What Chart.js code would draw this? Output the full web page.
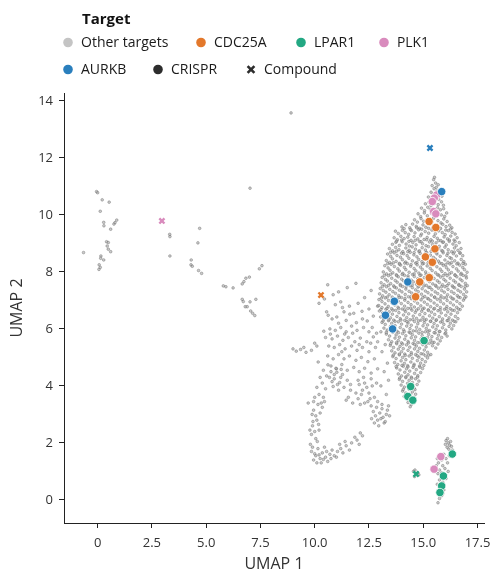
<!DOCTYPE html>
<html><head><meta charset="utf-8">
<script src="https://cdn.jsdelivr.net/npm/chart.js@4.4.1/dist/chart.umd.min.js"></script>
<style>html,body{margin:0;padding:0;background:#fff;}#wrap{position:relative;width:490px;height:574px;}</style>
</head><body><div id="wrap"><canvas id="c" width="490" height="574"></canvas></div>
<script>
const xTicks=[0,2.5,5,7.5,10,12.5,15,17.5];
const yTicks=[0,2,4,6,8,10,12,14];
const legendTitle='Target';
const legendLabels=['Other targets','CDC25A','LPAR1','PLK1','AURKB','CRISPR','Compound'];

// CRISPR-hit targets
const cdc25a=[[15.27,9.77],[15.58,9.56],[15.54,8.81],[15.10,8.53],[15.42,8.34],[15.28,7.80],[14.84,7.65],[14.65,7.13]];
const lpar1=[[15.04,5.59],[14.42,3.98],[14.29,3.63],[14.52,3.50],[16.34,1.61],[15.93,0.84],[15.85,0.49],[15.77,0.26]];
const plk1=[[15.62,10.70],[15.51,10.59],[15.42,10.47],[15.48,10.12],[15.58,10.04],[15.81,1.52],[15.50,1.08]];
const aurkb=[[15.85,10.82],[14.29,7.65],[13.67,6.97],[13.26,6.48],[13.59,6.00]];
// compound-hit targets
const compoundCdc25a=[[10.29,7.19]];
const compoundLpar1=[[14.67,0.91]];
const compoundPlk1=[[2.96,9.79]];
const compoundAurkb=[[15.31,12.35]];

// other targets
const otherSparse=[[-0.05,10.82],[0.0,10.78],[0.21,10.53],[0.53,10.45],[0.12,10.13],[0.28,9.74],[0.29,9.62],[0.88,9.82],[0.80,9.73],[0.75,9.68],[0.60,9.50],[0.41,9.06],[0.49,9.03],[0.44,8.91],[0.49,8.80],[0.60,8.71],[-0.65,8.68],[0.15,8.56],[0.14,8.48],[0.28,8.42],[0.07,8.25],[0.12,8.16],[0.06,8.09],[3.32,9.32],[3.33,9.24],[3.33,8.56],[4.70,9.53],[4.62,9.02],[4.31,8.42],[4.30,8.25],[4.36,8.20],[4.65,8.05],[4.79,7.95],[7.02,10.94],[5.79,7.51],[5.91,7.48],[6.24,7.44],[6.66,7.58],[6.74,7.66],[6.83,7.78],[6.99,7.82],[7.45,8.11],[7.57,8.22],[6.66,7.04],[6.71,6.96],[7.02,6.95],[7.29,7.04],[6.80,6.78],[6.89,6.78],[7.05,6.63],[7.14,6.55],[7.24,6.47],[8.91,13.58]];

const otherMiddle=[[10.6,7.55],[10.85,7.2],[11.1,7.3],[11.5,7.45],[11.2,6.95],[10.95,6.85],[11.6,6.8],[12.0,6.9],[12.3,7.1],[10.55,6.6],[11.35,6.6],[11.8,6.55],[12.5,6.7],[12.7,6.45],[10.8,6.35],[11.1,6.2],[12.2,6.35],[12.9,6.8],[12.6,7.35],[11.9,7.6],[10.2,6.9],[10.45,7.05],
[9.0,5.3],[9.15,5.22],[9.35,5.28],[9.6,5.18],[9.85,5.25],[10.0,5.5],[10.1,5.4],[9.5,5.35],[10.16,4.84],[10.61,4.74],
[10.7,6.0],[10.95,5.95],[11.2,6.05],[11.45,5.9],[11.7,6.1],[11.95,5.95],[12.25,6.05],[12.5,5.9],[10.5,5.7],[10.8,5.65],[11.05,5.75],[11.3,5.6],[11.55,5.7],[11.85,5.55],[12.1,5.68],[12.4,5.55],[12.7,5.72],[10.65,5.4],[10.9,5.35],[11.15,5.45],[11.4,5.3],[11.7,5.4],[11.95,5.25],[12.2,5.35],[12.5,5.2],[12.8,5.35],[10.6,5.05],[10.85,4.95],[11.1,5.1],[11.35,4.95],[11.6,5.05],[11.9,4.9],[12.15,5.0],[12.45,4.85],[12.75,4.95],[10.75,4.7],[11.0,4.6],[11.25,4.75],[11.5,4.55],[11.8,4.65],[12.05,4.5],[12.3,4.62],[12.6,4.45],[12.9,4.6],[11.45,6.3],[11.75,5.85],[12.05,5.45],[11.25,5.2],[10.9,4.4],[11.2,4.3],[11.5,4.2],[11.05,4.05],[10.8,4.15],[11.35,3.95],[11.65,4.05],[12.0,4.2],[12.3,4.1],[12.6,4.25],[12.85,4.1],[12.2,3.85],[12.5,3.75],[12.75,3.6],[12.0,3.55],[12.3,3.4],[12.6,3.3],[12.9,3.45],[13.1,3.2],[12.8,2.95],[13.05,2.85],[13.3,3.0],[12.95,2.6],[13.2,2.7],[13.4,3.3],[12.7,3.1],
[10.62,6.48],[11.02,6.42],[11.28,6.75],[11.62,6.52],[11.92,6.22],[12.18,6.62],[12.42,6.28],[12.65,6.05],[12.85,5.85],[10.42,5.92],[10.72,5.82],[11.38,5.82],[12.58,5.5],[12.9,5.55],[13.05,5.9],
[10.75,4.5],[10.9,4.25],[11.02,4.48],[11.15,4.12],[11.28,4.4],[10.85,3.98],[11.1,3.85],[10.98,4.62],[11.22,4.58],[10.68,4.3],
[12.05,4.05],[12.15,3.7],[12.4,3.95],[12.55,3.55],[12.65,4.0],[12.25,4.3],[12.45,3.45],[12.1,3.35],
[12.62,2.85],[12.85,3.25],[13.0,3.05],[13.15,2.9],[13.35,3.15],[13.25,2.75],[12.75,2.7],[13.45,2.95],[13.1,3.35],[12.9,2.8],
[13.2,4.5],[13.35,4.8],[13.1,5.2],[13.25,5.45],[13.4,4.2],[13.05,4.0],[13.3,3.7],
[10.0,3.6],[10.15,3.35],[9.95,3.15],[10.25,3.05],[10.1,2.8],[9.9,2.6],[10.2,2.45],[9.85,2.3],[10.05,2.15],[9.8,1.95],[10.3,3.4],[10.4,3.6],[9.7,3.4],
[9.85,1.7],[10.05,1.55],[10.25,1.45],[10.5,1.5],[10.7,1.6],[9.95,1.4],[10.35,1.65],[10.6,1.35],[10.9,1.55],[10.15,1.8],[11.05,1.7],[10.45,1.85],
[11.2,1.8],[11.45,1.9],[11.7,2.0],[11.95,2.1],[12.2,2.25],[11.3,1.65],[11.6,1.75],[12.05,1.95],
[9.88,3.0],[10.05,2.95],[9.92,2.75],[10.18,2.65],[10.0,2.4],[9.78,2.45],[10.12,2.05],[9.9,1.85],[10.0,1.62],[10.2,1.58],[10.4,1.42],[10.75,1.45],[10.55,1.7],[10.8,1.75],[11.0,1.5],[10.3,1.3],[10.1,1.3],[11.15,1.95],[11.4,2.05],[11.85,2.2],[12.1,2.35],[10.35,3.25],[10.45,3.45],[10.2,3.7],[9.95,3.45],[10.1,3.95],[10.35,4.1],[10.5,3.9],[10.55,4.35],[10.4,4.55],[10.25,4.3],
[11.55,3.6],[11.75,3.4],[11.9,3.75],[11.65,3.85],[11.45,3.5]];

const otherMain=[[15.48,11.24],[15.57,11.12],[15.52,11.32],
[15.41,11.03],[15.6,10.97],[15.69,11.06],[15.5,10.92],
[15.36,10.8],[15.47,10.74],[15.63,10.84],[15.79,10.78],
[15.24,10.63],[15.39,10.57],[15.55,10.65],[15.71,10.55],[15.86,10.66],
[15.1,10.39],[15.27,10.45],[15.36,10.33],[15.52,10.41],[15.69,10.36],[15.84,10.46],[15.93,10.34],
[14.92,10.24],[15.06,10.15],[15.21,10.27],[15.33,10.19],[15.49,10.12],[15.66,10.25],[15.79,10.18],[15.94,10.22],
[14.76,10.04],[14.88,9.94],[15.05,10.07],[15.19,9.97],[15.38,10.05],[15.51,9.93],[15.62,10.08],[15.83,10.0],[15.99,9.95],[16.08,10.07],
[14.6,9.83],[14.73,9.75],[14.9,9.87],[15.02,9.78],[15.22,9.84],[15.39,9.74],[15.47,9.88],[15.68,9.8],[15.82,9.72],[15.95,9.86],[16.1,9.77],
[14.02,9.58],[14.2,9.66],[14.38,9.55],[14.51,9.68],[14.68,9.6],[14.83,9.53],[14.99,9.65],[15.12,9.57],[15.31,9.69],[15.44,9.55],[15.63,9.62],[15.77,9.54],[15.9,9.67],[16.05,9.59],[16.22,9.64],[16.32,9.55],
[13.72,9.43],[13.85,9.35],[14.04,9.46],[14.17,9.38],[14.33,9.32],[14.46,9.45],[14.62,9.37],[14.79,9.48],[14.92,9.33],[15.09,9.42],[15.25,9.36],[15.4,9.47],[15.56,9.34],[15.71,9.44],[15.88,9.38],[16.01,9.31],[16.16,9.45],[16.33,9.39],[16.47,9.33],
[13.66,9.2],[13.81,9.13],[13.97,9.25],[14.12,9.17],[14.29,9.22],[14.44,9.11],[14.58,9.24],[14.75,9.16],[14.88,9.27],[15.04,9.14],[15.18,9.21],[15.35,9.13],[15.5,9.25],[15.65,9.18],[15.81,9.1],[15.96,9.23],[16.12,9.16],[16.27,9.26],[16.42,9.12],[16.56,9.2],
[13.58,8.97],[13.74,9.04],[13.9,8.93],[14.03,9.06],[14.21,8.98],[14.36,8.91],[14.52,9.03],[14.67,8.95],[14.83,9.07],[14.97,8.99],[15.13,8.92],[15.29,9.05],[15.43,8.96],[15.59,9.02],[15.74,8.9],[15.9,9.04],[16.06,8.95],[16.2,9.07],[16.37,8.98],[16.52,8.92],[16.66,9.03],
[13.44,8.82],[13.59,8.74],[13.73,8.86],[13.88,8.78],[14.06,8.71],[14.2,8.84],[14.35,8.76],[14.49,8.88],[14.64,8.8],[14.8,8.72],[14.95,8.85],[15.1,8.77],[15.24,8.89],[15.41,8.79],[15.55,8.7],[15.71,8.83],[15.85,8.75],[16.0,8.87],[16.15,8.78],[16.31,8.71],[16.44,8.84],[16.6,8.76],[16.74,8.82],
[13.36,8.63],[13.5,8.55],[13.66,8.67],[13.79,8.58],[13.95,8.52],[14.1,8.64],[14.26,8.57],[14.4,8.69],[14.57,8.6],[14.71,8.53],[14.86,8.65],[15.02,8.56],[15.16,8.68],[15.33,8.59],[15.47,8.51],[15.63,8.63],[15.78,8.55],[15.92,8.67],[16.09,8.58],[16.23,8.5],[16.39,8.64],[16.53,8.56],[16.69,8.66],[16.82,8.57],
[13.3,8.4],[13.45,8.33],[13.58,8.46],[13.75,8.37],[13.9,8.3],[14.04,8.43],[14.19,8.35],[14.34,8.48],[14.5,8.39],[14.65,8.31],[14.79,8.44],[14.94,8.36],[15.09,8.49],[15.25,8.4],[15.39,8.32],[15.56,8.45],[15.7,8.38],[15.86,8.29],[16.0,8.42],[16.14,8.34],[16.3,8.47],[16.45,8.39],[16.6,8.31],[16.75,8.44],[16.87,8.36],
[13.23,8.22],[13.38,8.14],[13.52,8.27],[13.67,8.19],[13.83,8.11],[13.96,8.24],[14.13,8.16],[14.27,8.29],[14.42,8.2],[14.58,8.12],[14.72,8.25],[14.87,8.17],[15.02,8.3],[15.18,8.21],[15.32,8.13],[15.48,8.26],[15.63,8.18],[15.78,8.1],[15.93,8.23],[16.07,8.15],[16.23,8.28],[16.37,8.19],[16.53,8.11],[16.68,8.24],[16.82,8.16],[16.94,8.27],
[13.16,8.0],[13.31,7.93],[13.47,8.06],[13.6,7.97],[13.76,7.9],[13.9,8.03],[14.06,7.95],[14.2,8.08],[14.35,7.99],[14.51,7.91],[14.66,8.04],[14.8,7.96],[14.96,8.09],[15.11,8.0],[15.26,7.92],[15.41,8.05],[15.57,7.97],[15.71,7.89],[15.86,8.02],[16.01,7.94],[16.16,8.07],[16.3,7.98],[16.46,7.9],[16.61,8.03],[16.75,7.95],[16.9,8.08],[17.02,7.99],
[13.11,7.81],[13.26,7.74],[13.4,7.87],[13.55,7.78],[13.71,7.7],[13.85,7.83],[14.0,7.75],[14.14,7.88],[14.3,7.79],[14.45,7.71],[14.59,7.84],[14.75,7.76],[14.9,7.89],[15.05,7.8],[15.2,7.72],[15.35,7.85],[15.5,7.77],[15.65,7.69],[15.8,7.82],[15.95,7.74],[16.1,7.87],[16.24,7.78],[16.4,7.7],[16.55,7.83],[16.7,7.75],[16.84,7.88],[16.99,7.79],
[13.06,7.62],[13.2,7.55],[13.35,7.68],[13.5,7.59],[13.64,7.51],[13.8,7.64],[13.94,7.56],[14.09,7.69],[14.24,7.6],[14.39,7.52],[14.54,7.65],[14.69,7.57],[14.84,7.7],[14.99,7.61],[15.14,7.53],[15.29,7.66],[15.44,7.58],[15.59,7.5],[15.74,7.63],[15.89,7.55],[16.04,7.68],[16.18,7.59],[16.34,7.51],[16.49,7.64],[16.64,7.56],[16.79,7.69],[16.94,7.6],[17.03,7.52],
[13.02,7.42],[13.16,7.35],[13.31,7.48],[13.46,7.39],[13.6,7.31],[13.76,7.44],[13.9,7.36],[14.05,7.49],[14.2,7.4],[14.35,7.32],[14.5,7.45],[14.65,7.37],[14.8,7.5],[14.95,7.41],[15.1,7.33],[15.25,7.46],[15.4,7.38],[15.55,7.3],[15.7,7.43],[15.85,7.35],[16.0,7.48],[16.14,7.39],[16.3,7.31],[16.45,7.44],[16.6,7.36],[16.75,7.49],[16.9,7.4],[17.0,7.3],
[12.99,7.23],[13.13,7.16],[13.28,7.29],[13.43,7.2],[13.57,7.12],[13.72,7.25],[13.87,7.17],[14.02,7.3],[14.17,7.21],[14.32,7.13],[14.47,7.26],[14.62,7.18],[14.77,7.31],[14.92,7.22],[15.07,7.14],[15.22,7.27],[15.37,7.19],[15.52,7.11],[15.67,7.24],[15.82,7.16],[15.97,7.29],[16.12,7.2],[16.27,7.12],[16.42,7.25],[16.57,7.17],[16.72,7.3],[16.86,7.21],[16.97,7.13],
[12.96,7.03],[13.1,6.96],[13.25,7.09],[13.4,7.0],[13.55,6.92],[13.7,7.05],[13.85,6.97],[14.0,7.1],[14.15,7.01],[14.3,6.93],[14.45,7.06],[14.6,6.98],[14.75,7.11],[14.9,7.02],[15.05,6.94],[15.2,7.07],[15.35,6.99],[15.5,6.91],[15.65,7.04],[15.8,6.96],[15.95,7.09],[16.1,7.0],[16.25,6.92],[16.4,7.05],[16.55,6.97],[16.7,7.1],[16.85,7.01],
[12.95,6.82],[13.1,6.75],[13.24,6.88],[13.39,6.79],[13.54,6.71],[13.69,6.84],[13.84,6.76],[13.99,6.89],[14.14,6.8],[14.29,6.72],[14.44,6.85],[14.59,6.77],[14.74,6.9],[14.89,6.81],[15.04,6.73],[15.19,6.86],[15.34,6.78],[15.49,6.7],[15.64,6.83],[15.79,6.75],[15.94,6.88],[16.09,6.79],[16.24,6.71],[16.39,6.84],[16.54,6.76],[16.69,6.89],[16.8,6.8],
[12.98,6.63],[13.13,6.56],[13.28,6.69],[13.43,6.6],[13.58,6.52],[13.73,6.65],[13.88,6.57],[14.03,6.7],[14.18,6.61],[14.33,6.53],[14.48,6.66],[14.63,6.58],[14.78,6.71],[14.93,6.62],[15.08,6.54],[15.23,6.67],[15.38,6.59],[15.53,6.51],[15.68,6.64],[15.83,6.56],[15.98,6.69],[16.13,6.6],[16.28,6.52],[16.43,6.65],[16.58,6.57],[16.7,6.68],
[13.04,6.42],[13.19,6.35],[13.34,6.48],[13.49,6.39],[13.64,6.31],[13.79,6.44],[13.94,6.36],[14.09,6.49],[14.24,6.4],[14.39,6.32],[14.54,6.45],[14.69,6.37],[14.84,6.5],[14.99,6.41],[15.14,6.33],[15.29,6.46],[15.44,6.38],[15.59,6.3],[15.74,6.43],[15.89,6.35],[16.04,6.48],[16.19,6.39],[16.34,6.31],[16.48,6.44],[16.6,6.36],
[13.1,6.23],[13.25,6.16],[13.4,6.29],[13.55,6.2],[13.7,6.12],[13.85,6.25],[14.0,6.17],[14.15,6.3],[14.3,6.21],[14.45,6.13],[14.6,6.26],[14.75,6.18],[14.9,6.31],[15.05,6.22],[15.2,6.14],[15.35,6.27],[15.5,6.19],[15.65,6.11],[15.8,6.24],[15.95,6.16],[16.1,6.29],[16.25,6.2],[16.4,6.12],[16.5,6.25],
[13.19,6.03],[13.34,5.96],[13.49,6.09],[13.64,6.0],[13.79,5.92],[13.94,6.05],[14.09,5.97],[14.24,6.1],[14.39,6.01],[14.54,5.93],[14.69,6.06],[14.84,5.98],[14.99,6.11],[15.14,6.02],[15.29,5.94],[15.44,6.07],[15.59,5.99],[15.74,5.91],[15.89,6.04],[16.04,5.96],[16.19,6.09],[16.32,6.0],
[13.3,5.82],[13.45,5.75],[13.6,5.88],[13.75,5.79],[13.9,5.71],[14.05,5.84],[14.2,5.76],[14.35,5.89],[14.5,5.8],[14.65,5.72],[14.8,5.85],[14.95,5.77],[15.1,5.9],[15.25,5.81],[15.4,5.73],[15.55,5.86],[15.7,5.78],[15.85,5.7],[16.0,5.83],[16.1,5.75],
[13.4,5.62],[13.55,5.55],[13.7,5.68],[13.85,5.59],[14.0,5.51],[14.15,5.64],[14.3,5.56],[14.45,5.69],[14.6,5.6],[14.75,5.52],[14.9,5.65],[15.05,5.57],[15.2,5.7],[15.35,5.61],[15.5,5.53],[15.65,5.66],[15.78,5.58],
[13.48,5.42],[13.63,5.35],[13.78,5.48],[13.93,5.39],[14.08,5.31],[14.23,5.44],[14.38,5.36],[14.53,5.49],[14.68,5.4],[14.83,5.32],[14.98,5.45],[15.13,5.37],[15.28,5.5],[15.43,5.41],[15.58,5.33],
[13.55,5.23],[13.7,5.16],[13.85,5.29],[14.0,5.2],[14.15,5.12],[14.3,5.25],[14.45,5.17],[14.6,5.3],[14.75,5.21],[14.9,5.13],[15.05,5.26],[15.2,5.18],[15.35,5.1],
[13.6,5.03],[13.75,4.96],[13.9,5.09],[14.05,5.0],[14.2,4.92],[14.35,5.05],[14.5,4.97],[14.65,5.1],[14.8,5.01],[14.95,4.93],[15.1,5.06],[15.2,4.98],
[13.68,4.82],[13.83,4.75],[13.98,4.88],[14.13,4.79],[14.28,4.71],[14.43,4.84],[14.58,4.76],[14.73,4.89],[14.88,4.8],[15.03,4.72],[15.1,4.85],
[13.78,4.63],[13.93,4.56],[14.08,4.69],[14.23,4.6],[14.38,4.52],[14.53,4.65],[14.68,4.57],[14.83,4.7],[14.97,4.61],
[13.85,4.42],[14.0,4.35],[14.15,4.48],[14.3,4.39],[14.45,4.31],[14.6,4.44],[14.75,4.36],[14.88,4.47],
[13.9,4.23],[14.05,4.16],[14.2,4.29],[14.35,4.2],[14.5,4.12],[14.65,4.25],[14.8,4.17],
[13.98,4.03],[14.13,3.96],[14.28,4.09],[14.43,4.0],[14.58,3.92],[14.72,4.05],
[14.05,3.82],[14.2,3.75],[14.35,3.88],[14.5,3.79],[14.65,3.71],
[14.12,3.63],[14.27,3.56],[14.42,3.69],[14.57,3.6],
[14.3,3.42],[14.45,3.35],[14.58,3.45],[14.4,3.27]];

const otherMainB=[[14.12,9.52],[14.41,9.49],[14.7,9.55],[14.93,9.5],[15.25,9.53],[15.49,9.48],[15.8,9.52],[16.04,9.47],[16.26,9.51],
[13.77,9.08],[14.01,9.12],[14.34,9.07],[14.63,9.11],[14.9,9.06],[15.16,9.13],[15.42,9.08],[15.71,9.1],[15.93,9.05],[16.2,9.12],[16.47,9.07],
[13.5,8.69],[13.77,8.73],[14.0,8.66],[14.29,8.71],[14.58,8.68],[14.83,8.74],[15.12,8.67],[15.36,8.72],[15.62,8.68],[15.9,8.73],[16.14,8.66],[16.43,8.7],[16.7,8.67],
[13.36,8.29],[13.62,8.32],[13.91,8.27],[14.15,8.31],[14.44,8.26],[14.71,8.33],[14.96,8.28],[15.22,8.32],[15.49,8.27],[15.76,8.31],[16.04,8.26],[16.31,8.33],[16.55,8.28],[16.83,8.3],
[13.21,7.88],[13.5,7.92],[13.78,7.87],[14.03,7.91],[14.3,7.86],[14.58,7.93],[14.85,7.88],[15.13,7.92],[15.39,7.86],[15.66,7.9],[15.92,7.87],[16.2,7.93],[16.47,7.88],[16.73,7.91],[16.97,7.86],
[13.12,7.49],[13.4,7.53],[13.67,7.47],[13.95,7.52],[14.21,7.48],[14.49,7.54],[14.76,7.47],[15.03,7.51],[15.31,7.46],[15.57,7.53],[15.84,7.48],[16.1,7.52],[16.38,7.47],[16.65,7.53],[16.93,7.49],
[13.07,7.08],[13.34,7.12],[13.62,7.06],[13.89,7.11],[14.16,7.07],[14.44,7.13],[14.7,7.06],[14.98,7.1],[15.25,7.05],[15.53,7.12],[15.79,7.07],[16.07,7.11],[16.34,7.06],[16.62,7.12],[16.9,7.08],
[13.05,6.68],[13.33,6.72],[13.6,6.66],[13.87,6.71],[14.14,6.67],[14.42,6.73],[14.69,6.66],[14.97,6.7],[15.24,6.65],[15.52,6.72],[15.78,6.67],[16.06,6.71],[16.33,6.66],[16.62,6.7],
[13.15,6.28],[13.42,6.32],[13.7,6.27],[13.97,6.31],[14.25,6.26],[14.52,6.33],[14.79,6.28],[15.06,6.31],[15.33,6.27],[15.61,6.32],[15.88,6.26],[16.15,6.3],[16.42,6.27],
[13.3,5.88],[13.58,5.92],[13.86,5.87],[14.13,5.91],[14.4,5.86],[14.68,5.93],[14.95,5.88],[15.22,5.92],[15.5,5.87],[15.77,5.91],[16.04,5.86],
[13.5,5.48],[13.77,5.52],[14.05,5.47],[14.32,5.51],[14.6,5.46],[14.87,5.53],[15.14,5.48],[15.42,5.52],[15.68,5.47],
[13.62,5.08],[13.9,5.12],[14.17,5.07],[14.45,5.11],[14.72,5.06],[15.0,5.12],[15.25,5.08],
[13.75,4.68],[14.02,4.72],[14.3,4.67],[14.57,4.71],[14.85,4.66],
[13.92,4.28],[14.2,4.32],[14.47,4.27],[14.74,4.31],
[14.08,3.88],[14.36,3.92],[14.62,3.87]];

const otherBottom=[[16.05,2.08],[16.15,2.0],[16.22,1.92],[16.1,1.85],[16.3,1.88],[16.18,1.78],[16.02,1.95],[16.26,2.05],[16.35,1.75],[16.12,2.15],
[15.95,1.6],[16.05,1.45],[15.85,1.4],[16.12,1.3],[15.7,1.3],[15.9,1.2],[16.0,1.1],[15.75,1.05],[15.6,1.2],[16.15,1.0],[15.85,0.95],[15.95,0.88],[16.05,0.75],[15.68,0.92],[15.8,1.5],[15.55,1.0],[16.2,1.55],[15.65,1.45],
[15.75,0.7],[15.9,0.62],[15.65,0.55],[15.8,0.4],[15.95,0.35],[15.7,0.3],[15.85,0.15],[15.75,0.05],[15.9,0.22],[15.68,-0.1],
[14.55,1.0],[14.62,1.05],[14.75,0.95],[14.8,0.88],[14.6,0.82]];

const COL={orange:'#e3782b',green:'#23a883',pink:'#d98bbd',blue:'#2a7fbd',gray:'#c4c4c4',dark:'#2d2d2d'};
const toPts=a=>a.map(([x,y])=>({x,y}));
const otherAll=[...otherSparse,...otherMiddle,...otherMain,...otherMainB,...otherBottom];

function crispr(label,arr,col){return {label,data:toPts(arr),pointStyle:'circle',pointRadius:4.2,pointHoverRadius:4.2,backgroundColor:col,borderColor:'#ffffff',borderWidth:0.8};}
function compound(label,arr,col){return {label,data:toPts(arr),pointStyle:'crossRot',pointRadius:3.6,pointHoverRadius:3.6,backgroundColor:col,borderColor:col,borderWidth:2.4};}

const legendPlugin={id:'targetLegend',afterDraw(chart){
  const ctx=chart.ctx;ctx.save();
  ctx.textBaseline='middle';ctx.fillStyle='#111';
  ctx.font='bold 15px "Open Sans"';ctx.fillText(legendTitle,82,20,54);
  ctx.font='14px "Open Sans"';
  const items=[
    {t:legendLabels[0],c:COL.gray,x:68,y:42.5,s:'dot',w:91},
    {t:legendLabels[1],c:COL.orange,x:201,y:42.5,s:'dot',w:58},
    {t:legendLabels[2],c:COL.green,x:301,y:42.5,s:'dot',w:42},
    {t:legendLabels[3],c:COL.pink,x:384,y:42.5,s:'dot',w:32},
    {t:legendLabels[4],c:COL.blue,x:68,y:69.5,s:'dot',w:48},
    {t:legendLabels[5],c:COL.dark,x:158,y:69.5,s:'dot',w:51},
    {t:legendLabels[6],c:COL.dark,x:251,y:69.5,s:'x',w:78}];
  items.forEach(it=>{
    if(it.s==='dot'){ctx.beginPath();ctx.arc(it.x,it.y,4.8,0,Math.PI*2);ctx.fillStyle=it.c;ctx.fill();}
    else{ctx.strokeStyle=it.c;ctx.lineWidth=2.6;const r=3.4;ctx.beginPath();ctx.moveTo(it.x-r,it.y-r);ctx.lineTo(it.x+r,it.y+r);ctx.moveTo(it.x+r,it.y-r);ctx.lineTo(it.x-r,it.y+r);ctx.stroke();}
    ctx.fillStyle='#1a1a1a';ctx.fillText(it.t,it.x+13,it.y+0.5,it.w);
  });
  ctx.restore();}};

const tickFont={family:'"Open Sans"',size:13};
new Chart(document.getElementById('c'),{
  type:'scatter',
  data:{datasets:[
    compound('Compound AURKB',compoundAurkb,COL.blue),
    compound('Compound CDC25A',compoundCdc25a,COL.orange),
    compound('Compound LPAR1',compoundLpar1,COL.green),
    compound('Compound PLK1',compoundPlk1,COL.pink),
    crispr('AURKB',aurkb,COL.blue),
    crispr('CDC25A',cdc25a,COL.orange),
    crispr('LPAR1',lpar1,COL.green),
    crispr('PLK1',plk1,COL.pink),
    {label:'Other targets',data:toPts(otherAll),pointStyle:'circle',pointRadius:1.35,pointHoverRadius:1.35,backgroundColor:'rgba(170,170,170,0.6)',borderColor:'rgba(80,80,80,0.6)',borderWidth:0.6}
  ]},
  options:{
    responsive:false,animation:false,devicePixelRatio:1,
    layout:{padding:{top:93,right:6,left:0,bottom:0}},
    plugins:{legend:{display:false},tooltip:{enabled:false}},
    scales:{
      x:{type:'linear',min:-1.55,max:17.8,
        afterBuildTicks:s=>{s.ticks=xTicks.map(v=>({value:v}));},
        afterFit:s=>{s.height=51;s.paddingLeft=0;s.paddingRight=0;},
        ticks:{font:tickFont,color:'#333',padding:7,maxRotation:0,callback:v=>v===0?'0':v.toFixed(1)},
        grid:{drawOnChartArea:false,drawTicks:true,tickLength:5,color:'#222',lineWidth:1},
        border:{display:true,color:'#222',width:1},
        title:{display:true,text:'UMAP 1',font:{family:'"Open Sans"',size:16},color:'#333',padding:{top:0,bottom:0}}},
      y:{type:'linear',min:-0.81,max:14.28,
        afterBuildTicks:s=>{s.ticks=yTicks.map(v=>({value:v}));},
        afterFit:s=>{s.width=64;s.paddingTop=0;s.paddingBottom=0;},
        ticks:{font:tickFont,color:'#333',padding:6,callback:v=>String(v)},
        grid:{drawOnChartArea:false,drawTicks:true,tickLength:5,color:'#222',lineWidth:1},
        border:{display:true,color:'#222',width:1},
        title:{display:true,text:'UMAP 2',font:{family:'"Open Sans"',size:16},color:'#333',padding:{top:8,bottom:0}}}
    }
  },
  plugins:[legendPlugin]
});
</script></body></html>
